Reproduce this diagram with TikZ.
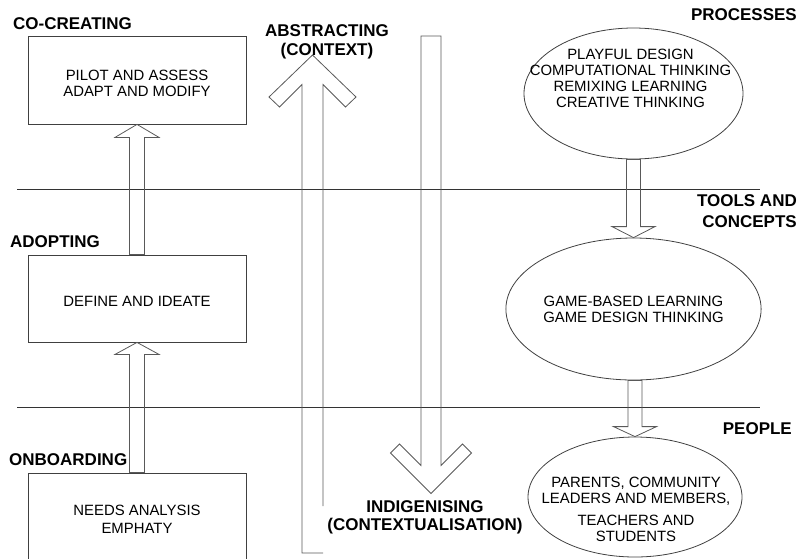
\documentclass[tikz,border=0pt]{standalone}
\usepackage{fontspec}
\setmainfont{Liberation Sans}
\usetikzlibrary{shapes.geometric}

\begin{document}
\begin{tikzpicture}[x=1pt, y=-1pt, line join=miter,
    stagebox/.style={draw=black!75, line width=0.8pt, minimum width=218pt,
        inner sep=0pt, font=\fontsize{14.9}{16}\selectfont, align=center},
    toolcell/.style={ellipse, draw=black!75, line width=0.8pt, inner sep=0pt},
    bodytext/.style={font=\fontsize{14.9}{16}\selectfont, align=center, inner sep=0pt},
    stagelabel/.style={font=\fontsize{17}{19}\selectfont\bfseries, inner sep=0pt},
    blockarrow/.style={draw=black!65, line width=0.8pt},
    divider/.style={draw=black!80, line width=0.8pt}]
    \useasboundingbox (0,0) rectangle (799,558);

    % Dải phân cách
    \draw[divider] (17,189) -- (760,189);
    \draw[divider] (17,407) -- (760,407);

    % Cột trái: các giai đoạn
    \node[stagebox, minimum height=88pt, text height=33.5pt, text depth=0pt] (pilot) at (137,80) {PILOT AND ASSESS\\ADAPT AND MODIFY};
    \node[stagebox, minimum height=87pt, text height=15.5pt, text depth=0pt] (define) at (137,298.5) {DEFINE AND IDEATE};
    \node[stagebox, minimum height=92pt] (needs) at (137,519) {NEEDS ANALYSIS\\[2pt]EMPHATY};
    \node[stagelabel, anchor=west] (cocreate) at (13,24) {CO-CREATING};
    \node[stagelabel, anchor=west] (adopt) at (10,242) {ADOPTING};
    \node[stagelabel, anchor=west] (onboard) at (9,460) {ONBOARDING};

    \draw[blockarrow] (pilot.south) -- ++(22,13) -- ++(-14.5,0) coordinate (a1)
        -- (a1 |- define.north) -- ++(-15,0) coordinate (a2) -- (a2 |- a1) -- ++(-14.5,0) -- cycle;
    \draw[blockarrow] (define.south) -- ++(22,12) -- ++(-14.5,0) coordinate (a3)
        -- (a3 |- needs.north) -- ++(-15,0) coordinate (a4) -- (a4 |- a3) -- ++(-14.5,0) -- cycle;

    % Mũi tên lớn ở giữa
    \draw[blockarrow] (323,506) -- (323,84.5) -- (345.5,107) -- (356,97) -- (312.5,55)
        -- (269,97) -- (279.5,107) -- (302,84.5) -- (302,553) -- (323,553);
    \draw[blockarrow] (421,36) -- (441,36) -- (441,465.5) -- (462.5,444) -- (471.5,453)
        -- (431,493.5) -- (390.5,453) -- (399.5,444) -- (421,465.5) -- cycle;
    \node[stagelabel, align=center] (abstract) at (327,41.5) {ABSTRACTING\\(CONTEXT)};
    \node[stagelabel, align=center] (indigen) at (425,517.5) {INDIGENISING\\[-1pt](CONTEXTUALISATION)};

    % Cột phải: quá trình, công cụ, con người
    \node[toolcell, minimum width=219pt, minimum height=131pt] (play) at (633.5,93.5) {};
    \node[bodytext] (playtxt) at (630.5,78) {PLAYFUL DESIGN\\COMPUTATIONAL THINKING\\REMIXING LEARNING\\CREATIVE THINKING};
    \node[toolcell, minimum width=213pt, minimum height=142pt, font=\fontsize{14.9}{16}\selectfont, align=center]
        (game) at (633.5,309) {GAME-BASED LEARNING\\GAME DESIGN THINKING};
    \node[toolcell, minimum width=214pt, minimum height=120pt] (people) at (635,497) {};
    \node[bodytext] (peopletxt) at (636,509.5) {PARENTS, COMMUNITY\\LEADERS AND MEMBERS,\\[6pt]TEACHERS AND\\STUDENTS};
    \node[stagelabel, anchor=east] (process) at (797,15) {PROCESSES};
    \node[stagelabel, anchor=east, align=right] (tools) at (797,211.5) {TOOLS AND\\[2pt]CONCEPTS};
    \node[stagelabel, anchor=east] (folk) at (792,429) {PEOPLE};

    \draw[blockarrow] (game.north) -- ++(21.5,-11) -- ++(-14.5,0) coordinate (b1)
        -- (b1 |- play.south) -- ++(-14,0) coordinate (b2) -- (b2 |- b1) -- ++(-14.5,0) -- cycle;
    \draw[blockarrow] (people.north) -- ++(21.5,-10) -- ++(-14.5,0) coordinate (b3)
        -- (b3 |- game.south) -- ++(-14,0) coordinate (b4) -- (b4 |- b3) -- ++(-14.5,0) -- cycle;
\end{tikzpicture}
\end{document}
